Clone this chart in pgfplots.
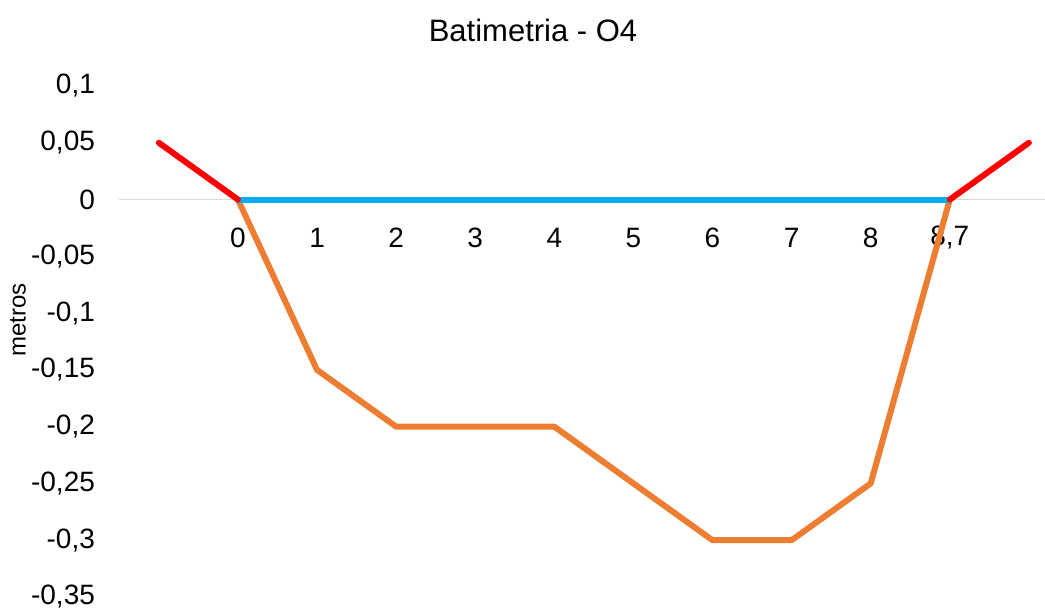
\documentclass[border=0pt]{standalone}
\usepackage{fontspec}
\setmainfont{Liberation Sans}
\usepackage{pgfplots}
\pgfplotsset{compat=1.18}
\definecolor{cred}{HTML}{FF0000}
\definecolor{cblue}{HTML}{00B0F0}
\definecolor{corange}{HTML}{ED7D31}
\definecolor{caxis}{HTML}{D9D9D9}
\begin{document}
\begin{tikzpicture}
\useasboundingbox (0,0) rectangle (522.5pt,304pt);
\node[font=\fontsize{15.5}{18}\selectfont] at (266.5pt,289pt) {Batimetria - O4};
\node[font=\fontsize{12}{14}\selectfont, rotate=90] at (9pt,144pt) {metros};
\begin{axis}[
  at={(59.65pt,5.5pt)}, anchor=south west,
  scale only axis,
  width=462.7pt, height=255.5pt,
  xmin=-0.5, xmax=11.2,
  ymin=-0.35, ymax=0.1,
  clip=false,
  axis x line=middle,
  axis y line=left,
  x axis line style={draw=caxis, line width=0.75pt, -},
  y axis line style={draw=none},
  major tick length=0pt,
  xtick={1,2,3,4,5,6,7,8,9,10},
  xticklabels={0,1,2,3,4,5,6,7,8,{8,7}},
  xticklabel style={anchor=center, yshift=-19pt, font=\fontsize{14}{16}\selectfont},
  ytick={-0.35,-0.3,-0.25,-0.2,-0.15,-0.1,-0.05,0,0.05,0.1},
  yticklabels={{-0,35},{-0,3},{-0,25},{-0,2},{-0,15},{-0,1},{-0,05},0,{0,05},{0,1}},
  yticklabel style={anchor=east, inner sep=0pt, xshift=-12pt, font=\fontsize{14}{16}\selectfont},
  every axis plot/.append style={line width=3pt, line cap=round, line join=round, mark=none},
]
\addplot[corange] coordinates {(1,0) (2,-0.15) (3,-0.2) (4,-0.2) (5,-0.2) (6,-0.25) (7,-0.3) (8,-0.3) (9,-0.25) (10,0)};
\addplot[cblue] coordinates {(1,0) (2,0) (3,0) (4,0) (5,0) (6,0) (7,0) (8,0) (9,0) (10,0)};
\addplot[cred] coordinates {(0,0.05) (1,0)};
\addplot[cred] coordinates {(10,0) (11,0.05)};
\end{axis}
\end{tikzpicture}
\end{document}
